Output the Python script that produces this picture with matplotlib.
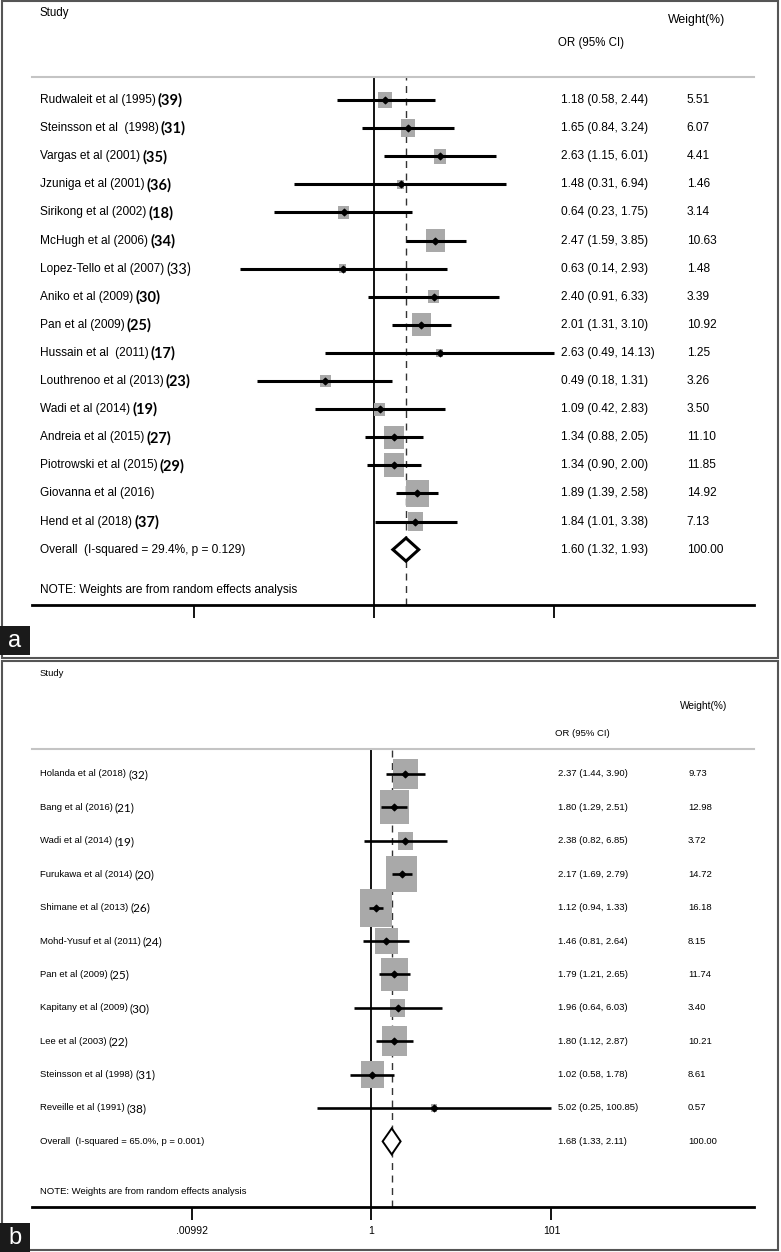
import numpy as np
import matplotlib
matplotlib.use("Agg")
import matplotlib.pyplot as plt
from matplotlib import font_manager
from matplotlib.patches import Rectangle
from matplotlib.path import Path

# ---- data: panel a ----
studies_a = ["Rudwaleit et al (1995)", "Steinsson et al  (1998)", "Vargas et al (2001)",
             "Jzuniga et al (2001)", "Sirikong et al (2002)", "McHugh et al (2006)",
             "Lopez-Tello et al (2007)", "Aniko et al (2009)", "Pan et al (2009)",
             "Hussain et al  (2011)", "Louthrenoo et al (2013)", "Wadi et al (2014)",
             "Andreia et al (2015)", "Piotrowski et al (2015)", "Giovanna et al (2016)",
             "Hend et al (2018)"]
refs_a = ["(39)", "(31)", "(35)", "(36)", "(18)", "(34)", "(33)", "(30)", "(25)", "(17)",
          "(23)", "(19)", "(27)", "(29)", "", "(37)"]
or_a = [1.18, 1.65, 2.63, 1.48, 0.64, 2.47, 0.63, 2.40, 2.01, 2.63, 0.49, 1.09, 1.34, 1.34, 1.89, 1.84]
lo_a = [0.58, 0.84, 1.15, 0.31, 0.23, 1.59, 0.14, 0.91, 1.31, 0.49, 0.18, 0.42, 0.88, 0.90, 1.39, 1.01]
hi_a = [2.44, 3.24, 6.01, 6.94, 1.75, 3.85, 2.93, 6.33, 3.10, 14.13, 1.31, 2.83, 2.05, 2.00, 2.58, 3.38]
w_a = [5.51, 6.07, 4.41, 1.46, 3.14, 10.63, 1.48, 3.39, 10.92, 1.25, 3.26, 3.50, 11.10, 11.85, 14.92, 7.13]
pooled_a = (1.60, 1.32, 1.93)
overall_a = "Overall  (I-squared = 29.4%, p = 0.129)"
ticks_a = [0.0708, 1, 14.13]

# ---- data: panel b ----
studies_b = ["Holanda et al (2018)", "Bang et al (2016)", "Wadi et al (2014)",
             "Furukawa et al (2014)", "Shimane et al (2013)", "Mohd-Yusuf et al (2011)",
             "Pan et al (2009)", "Kapitany et al (2009)", "Lee et al (2003)",
             "Steinsson et al (1998)", "Reveille et al (1991)"]
refs_b = ["(32)", "(21)", "(19)", "(20)", "(26)", "(24)", "(25)", "(30)", "(22)", "(31)", "(38)"]
or_b = [2.37, 1.80, 2.38, 2.17, 1.12, 1.46, 1.79, 1.96, 1.80, 1.02, 5.02]
lo_b = [1.44, 1.29, 0.82, 1.69, 0.94, 0.81, 1.21, 0.64, 1.12, 0.58, 0.25]
hi_b = [3.90, 2.51, 6.85, 2.79, 1.33, 2.64, 2.65, 6.03, 2.87, 1.78, 100.85]
w_b = [9.73, 12.98, 3.72, 14.72, 16.18, 8.15, 11.74, 3.40, 10.21, 8.61, 0.57]
pooled_b = (1.68, 1.33, 2.11)
overall_b = "Overall  (I-squared = 65.0%, p = 0.001)"
ticks_b = [0.00992, 1, 101]
ticklabels_b = [".00992", "1", "101"]

W, H = 781, 1252
names = {f.name for f in font_manager.fontManager.ttflist}
NARROW = "Liberation Sans Narrow" if "Liberation Sans Narrow" in names else "Liberation Sans"
REF = "Lato" if "Lato" in names else "DejaVu Sans"
plt.rcParams["font.family"] = ["Liberation Sans", "DejaVu Sans"]

fig = plt.figure(figsize=(W / 100, H / 100), dpi=100)

# box marker a bit taller than wide, like the original
box_marker = Path([(-0.42, -0.5), (0.42, -0.5), (0.42, 0.5), (-0.42, 0.5), (-0.42, -0.5)],
                  [Path.MOVETO, Path.LINETO, Path.LINETO, Path.LINETO, Path.CLOSEPOLY])


def draw_panel(cfg, studies, refs, est, lo, hi, wts, pooled, overall_label):
    top, bottom, row0, step = cfg["top"], cfg["bottom"], cfg["row0"], cfg["step"]
    ax = fig.add_axes([32 / W, 1 - bottom / H, 722 / W, (bottom - top) / H])
    y_of = lambda py: (py - row0) / step
    n = len(studies)
    rows = np.arange(n)
    ax.set_xscale("log")
    ax.set_xlim(np.exp((32 - cfg["null"]) / cfg["ppu"]), np.exp((754 - cfg["null"]) / cfg["ppu"]))
    ax.set_ylim(y_of(bottom), y_of(top))

    for s in ["left", "right"]:
        ax.spines[s].set_visible(False)
    ax.spines["top"].set_color("#c4c4c4")
    ax.spines["top"].set_linewidth(1.5)
    ax.spines["bottom"].set_linewidth(2.0)
    ax.set_yticks([])
    ax.set_xticks(cfg["ticks"])
    ax.xaxis.set_minor_locator(matplotlib.ticker.NullLocator())
    ax.set_xticklabels(cfg["ticklabels"], fontsize=7.5)
    ax.tick_params(axis="x", direction="out", length=9, width=1.3, pad=5)

    ax.axvline(1, color="black", lw=1.3, zorder=1)
    ax.axvline(pooled[0], color="#333333", lw=1.0, ls=(0, (5, 4)), zorder=1)

    ax.scatter(est, rows, s=cfg["box_k"] * np.array(wts), marker=box_marker,
               color="#a9a9a9", linewidths=0, zorder=2)
    ax.hlines(rows, lo, hi, color="black", lw=cfg["ci_lw"], zorder=3)
    ax.scatter(est, rows, s=11, marker="D", color="black", zorder=4)

    # pooled diamond
    h = cfg["dia_h"]
    ax.fill([pooled[1], pooled[0], pooled[2], pooled[0]], [n, n - h, n, n + h],
            facecolor="white", edgecolor="black", lw=cfg["dia_lw"], zorder=3)

    trans = ax.get_yaxis_transform()
    fs, rfs = cfg["fs"], cfg["ref_fs"]
    fam = cfg["family"]
    for i in range(n):
        t = ax.text(0.011, i, studies[i], transform=trans, va="center", ha="left",
                    fontsize=fs, family=fam)
        if refs[i]:
            bold = cfg["ref_bold"] and refs[i] != "(33)"
            ax.annotate(refs[i], xy=(1, 0.5), xycoords=t, xytext=(1.5, -0.5),
                        textcoords="offset points", va="center", ha="left",
                        fontsize=rfs, family=REF, fontweight="bold" if bold else "normal")
        ax.text(cfg["or_x"], i, f"{est[i]:.2f} ({lo[i]:.2f}, {hi[i]:.2f})", transform=trans,
                va="center", ha="left", fontsize=fs, family=fam)
        ax.text(cfg["w_x"], i, f"{wts[i]:.2f}", transform=trans,
                va="center", ha="left", fontsize=fs, family=fam)
    ax.text(0.011, n, overall_label, transform=trans, va="center", ha="left", fontsize=fs, family=fam)
    ax.text(cfg["or_x"], n, f"{pooled[0]:.2f} ({pooled[1]:.2f}, {pooled[2]:.2f})", transform=trans,
            va="center", ha="left", fontsize=fs, family=fam)
    ax.text(cfg["w_x"], n, "100.00", transform=trans, va="center", ha="left", fontsize=fs, family=fam)
    ax.text(0.011, y_of(cfg["note_y"]), "NOTE: Weights are from random effects analysis",
            transform=trans, va="center", ha="left", fontsize=fs, family=fam)

    # headers
    ax.text(0.011, y_of(cfg["study_y"]), "Study", transform=trans, va="center", ha="left",
            fontsize=cfg["hfs"], family=fam)
    ax.text(cfg["wh_x"], y_of(cfg["weight_y"]), "Weight(%)", transform=trans, va="center",
            ha="left", fontsize=cfg["hfs"] + 0.5, family=fam)
    ax.text(cfg["or_x"] - 0.004, y_of(cfg["orh_y"]), "OR (95% CI)", transform=trans, va="center",
            ha="left", fontsize=cfg["hfs"], family=fam)
    return ax


cfg_a = dict(top=77, bottom=605, row0=100, step=28.1, null=374, ppu=68,
             ticks=ticks_a, ticklabels=["", "", ""], box_k=25.4, ci_lw=2.2,
             dia_h=0.41, dia_lw=2.2, fs=8.6, ref_fs=10.5, family=NARROW, ref_bold=True,
             or_x=0.733, w_x=0.907, wh_x=0.881, note_y=590, study_y=13, weight_y=20, orh_y=43,
             hfs=8.3)
cfg_b = dict(top=749, bottom=1207, row0=774, step=33.4, null=371.5, ppu=39,
             ticks=ticks_b, ticklabels=ticklabels_b, box_k=46.3, ci_lw=1.9,
             dia_h=0.39, dia_lw=1.4, fs=6.8, ref_fs=8.5, family="Liberation Sans", ref_bold=False,
             or_x=0.7285, w_x=0.9086, wh_x=0.8975, note_y=1192, study_y=673, weight_y=706,
             orh_y=734, hfs=6.8)

draw_panel(cfg_a, studies_a, refs_a, or_a, lo_a, hi_a, w_a, pooled_a, overall_a)
draw_panel(cfg_b, studies_b, refs_b, or_b, lo_b, hi_b, w_b, pooled_b, overall_b)

# panel frames
for (y0, y1) in [(1, 658), (661, 1250)]:
    fig.add_artist(Rectangle((2 / W, 1 - y1 / H), 776 / W, (y1 - y0) / H, transform=fig.transFigure,
                             fill=False, edgecolor="#555555", lw=1.5))

# panel letters
for (y0, letter) in [(626, "a"), (1223, "b")]:
    fig.add_artist(Rectangle((0, 1 - (y0 + 29) / H), 30 / W, 29 / H, transform=fig.transFigure,
                             facecolor="#1a1a1a", edgecolor="none"))
    fig.text(15 / W, 1 - (y0 + 15) / H, letter, color="white", fontsize=17, ha="center", va="center")

fig.savefig("out.png", dpi=100)
